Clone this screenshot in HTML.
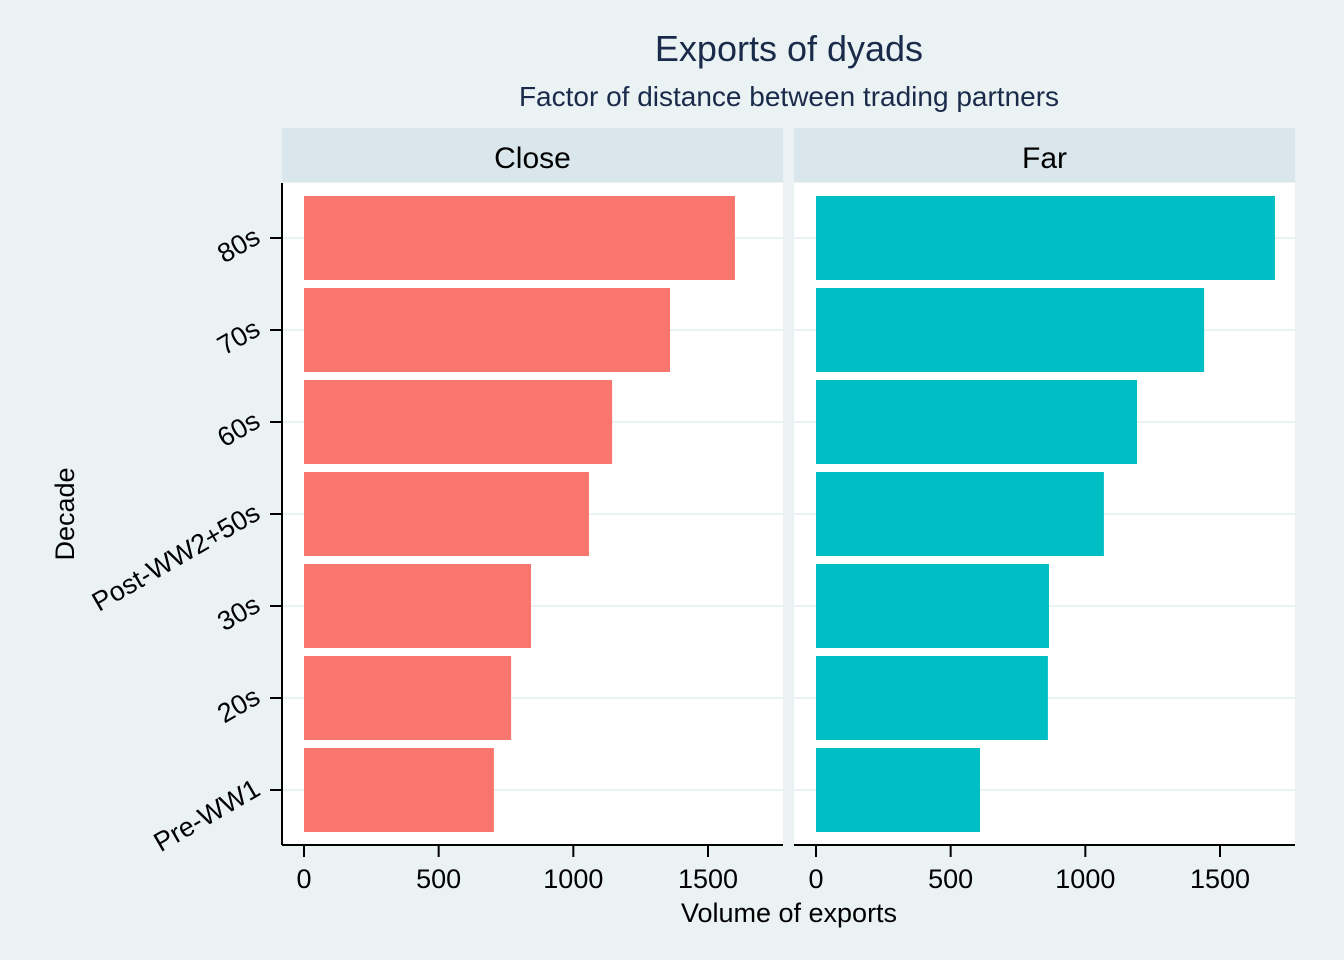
<!DOCTYPE html>
<html><head><meta charset="utf-8"><style>
body{margin:0;background:#eaf2f3;}
svg{display:block;font-family:"Liberation Sans",Arial,sans-serif;}
</style></head><body>
<svg id="chart" width="1344" height="960" xmlns="http://www.w3.org/2000/svg">
<rect width="1344" height="960" fill="#eaf2f3"/>
<text x="789" y="61" font-size="36" fill="#1a2a4a" text-anchor="middle">Exports of dyads</text>
<text x="789" y="106" font-size="28" fill="#1a2a4a" text-anchor="middle">Factor of distance between trading partners</text>
<text x="789" y="922" font-size="27" fill="#000" text-anchor="middle">Volume of exports</text>
<text transform="translate(74,514) rotate(-90)" font-size="27" fill="#000" text-anchor="middle">Decade</text>
<g id="plots"></g>
</svg>
<script>
const categories = ["Pre-WW1","20s","30s","Post-WW2+50s","60s","70s","80s"];
const panels = ["Close","Far"];
const closeValues = [705,769,843,1058,1144,1359,1600];
const farValues = [609,861,865,1069,1192,1441,1704];
const xTicks = [0,500,1000,1500];
const NS="http://www.w3.org/2000/svg";
const g=document.getElementById('plots');
function mk(tag,attrs,parent){const e=document.createElementNS(NS,tag);for(const k in attrs)e.setAttribute(k,attrs[k]);(parent||g).appendChild(e);return e;}
const plotTop=183, plotBot=845, step=92, barH=84;
function yPos(i){return 790 - i*step;}
const panelDefs=[{x0:282,x1:783,zero:304,vals:closeValues,color:"#f8766d"},{x0:794,x1:1295,zero:816,vals:farValues,color:"#00bfc4"}];
const scale=404/1500;
panelDefs.forEach((p,pi)=>{
  const strip=mk('rect',{x:p.x0,y:128,width:p.x1-p.x0,height:54,fill:"#d9e6eb"});
  
  
  const st=mk('text',{x:(p.x0+p.x1)/2,y:168,'font-size':30,'text-anchor':'middle',fill:'#000'});
  st.textContent=panels[pi];
  
  
  const bg=mk('rect',{x:p.x0,y:plotTop,width:p.x1-p.x0,height:plotBot-plotTop,fill:"#fff"});
  
  
  categories.forEach((c,i)=>{
    const gl=mk('line',{x1:p.x0,x2:p.x1,y1:yPos(i),y2:yPos(i),stroke:"#eaf2f3","stroke-width":2});
    
    
  });
  categories.forEach((c,i)=>{
    const b=mk('rect',{x:p.zero,y:yPos(i)-barH/2,width:p.vals[i]*scale,height:barH,fill:p.color});
    
    
  });
  const ax=mk('line',{x1:p.x0,x2:p.x1,y1:plotBot,y2:plotBot,stroke:"#000","stroke-width":2});
  
  
  xTicks.forEach(t=>{
    const x=p.zero+t*scale;
    const tk=mk('line',{x1:x,x2:x,y1:plotBot,y2:plotBot+12,stroke:"#000","stroke-width":2});
    
    
    const tl=mk('text',{x:x,y:888,'font-size':27,'text-anchor':'middle',fill:'#000'});
    tl.textContent=t;
    
    
  });
});
const yax=mk('line',{x1:282,x2:282,y1:plotTop,y2:plotBot,stroke:"#000","stroke-width":2});


categories.forEach((c,i)=>{
  const y=yPos(i);
  const tk=mk('line',{x1:270,x2:282,y1:y,y2:y,stroke:"#000","stroke-width":2});
  
  
  const tl=mk('text',{x:0,y:0,'font-size':27,'text-anchor':'end',fill:'#000',transform:`translate(262,${y+4}) rotate(-30)`});
  tl.textContent=c;
  
  
});
</script>
</body></html>
